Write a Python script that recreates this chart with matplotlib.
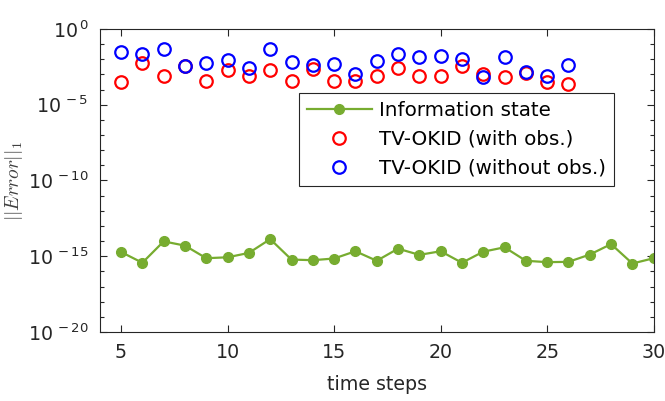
import numpy as np
import matplotlib
matplotlib.use("Agg")
import matplotlib.pyplot as plt
from matplotlib.ticker import FixedLocator, FixedFormatter

plt.rcParams['font.family'] = ['DejaVu Sans']
plt.rcParams['mathtext.fontset'] = 'dejavusans'

# data (log10 of error)
steps_info = list(range(5, 31))
log_info = [-14.72, -15.43, -14.02, -14.30, -15.13, -15.07, -14.78, -13.87, -15.22,
            -15.26, -15.15, -14.67, -15.30, -14.50, -14.91, -14.67, -15.43, -14.70,
            -14.41, -15.30, -15.39, -15.37, -14.89, -14.20, -15.48, -15.13]

steps_okid = list(range(5, 27))
log_with_obs = [-3.49, -2.24, -3.12, -2.46, -3.41, -2.73, -3.12, -2.73, -3.45, -2.64, -3.41,
                -3.45, -3.12, -2.57, -3.12, -3.12, -2.42, -2.95, -3.16, -2.90, -3.52, -3.63]
log_without_obs = [-1.54, -1.65, -1.32, -2.46, -2.24, -2.07, -2.57, -1.32, -2.20, -2.37, -2.35,
                   -2.97, -2.13, -1.63, -1.87, -1.80, -2.02, -3.19, -1.85, -2.84, -3.08, -2.37]

yticks = [0, -5, -10, -15, -20]

info = 10.0 ** np.array(log_info)
with_obs = 10.0 ** np.array(log_with_obs)
without_obs = 10.0 ** np.array(log_without_obs)

fs = 13.7
dark = '#262626'

fig = plt.figure(figsize=(6.65, 4.01), dpi=100)
ax = fig.add_axes([0.150, 0.172, 0.833, 0.756])

ax.plot(steps_info, info, '-o', color='#77AC30', lw=1.6, ms=7, label='Information state')
ax.plot(steps_okid, with_obs, 'o', mfc='none', mec='red', mew=1.6, ms=9,
        label='TV-OKID (with obs.)')
ax.plot(steps_okid, without_obs, 'o', mfc='none', mec='blue', mew=1.6, ms=9,
        label='TV-OKID (without obs.)')

ax.set_yscale('log')
ax.set_xlim(4, 30)
ax.set_ylim(1e-20, 1e0)
ax.set_xticks([5, 10, 15, 20, 25, 30])
ax.yaxis.set_major_locator(FixedLocator([10.0 ** e for e in yticks]))
ax.yaxis.set_major_formatter(FixedFormatter([r'$10^{\,%d}$' % e for e in yticks]))
ax.yaxis.set_minor_locator(FixedLocator([10.0 ** e for e in range(-20, 1)]))
ax.yaxis.set_minor_formatter(FixedFormatter([''] * 21))

ax.tick_params(which='both', direction='in', top=True, right=True, colors=dark,
               labelsize=fs, width=0.8)
ax.tick_params(axis='x', pad=8)
ax.tick_params(axis='y', pad=8)
ax.tick_params(which='major', length=5)
ax.tick_params(which='minor', length=3)
for s in ax.spines.values():
    s.set_color(dark)
    s.set_linewidth(0.8)

ax.set_xlabel('time steps', fontsize=fs, color=dark, labelpad=9)
ax.set_ylabel(r'$||Error||_1$', fontsize=14, color='#404040', math_fontfamily='cm')
ax.yaxis.set_label_coords(-0.135, 0.5)

leg = ax.legend(loc='upper left', bbox_to_anchor=(0.359, 0.789), fontsize=14.3,
                frameon=True, fancybox=False, edgecolor=dark, framealpha=1,
                handlelength=3.3, borderpad=0.4, labelspacing=0.5, handletextpad=0.35,
                borderaxespad=0)
leg.get_frame().set_linewidth(0.8)

fig.savefig('out.png', dpi=100)
